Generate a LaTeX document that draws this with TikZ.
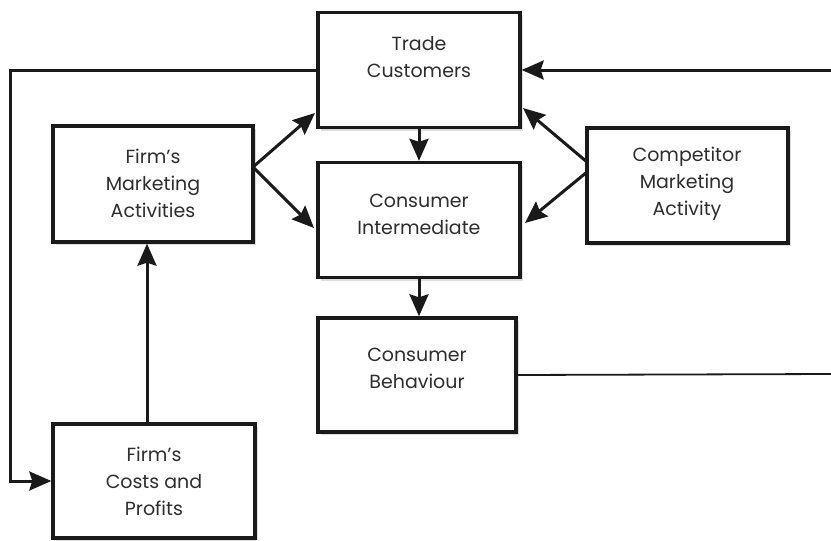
\documentclass[tikz,border=0pt]{standalone}
\usepackage{fontspec}
\setmainfont{Poppins}
\usetikzlibrary{arrows.meta,shadows}
\definecolor{ink}{HTML}{1A1A1A}
\definecolor{txtc}{HTML}{2E2E2E}
\tikzset{
  box/.style={draw=ink, line width=3.4pt, fill=white, minimum width=200pt, minimum height=114pt, inner sep=0pt,
    drop shadow={shadow xshift=3pt, shadow yshift=-3pt, opacity=0.22, fill=black!60}},
  txt/.style={align=center, text=txtc, font=\fontsize{19}{27}\selectfont, inner sep=0pt},
  arr/.style={draw=ink, line width=3pt, -{Stealth[length=22pt,width=19pt,inset=3pt]}},
  thinline/.style={draw=ink, line width=1.8pt}
}
\begin{document}
\begin{tikzpicture}[x=1pt,y=-1pt]
\useasboundingbox (0,0) rectangle (831,541);
% boxes
\node[box, minimum width=202pt, minimum height=115pt] (tc) at (419,70) {};
\node[box, minimum width=202pt, minimum height=115pt] (ci) at (419,220) {};
\node[box, minimum width=198pt, minimum height=114pt] (cb) at (417,375) {};
\node[box, minimum width=200pt, minimum height=116pt] (fma) at (153,184) {};
\node[box, minimum width=201pt, minimum height=115pt] (cma) at (687.5,185.5) {};
\node[box, minimum width=202pt, minimum height=114pt] (cp) at (154,481) {};
% texts
\node[txt] (tct) at (419,57) {Trade\\Customers};
\node[txt] (cit) at (419,214) {Consumer\\Intermediate};
\node[txt] (cbt) at (417,368) {Consumer\\Behaviour};
\node[txt] (fmat) at (153,183) {Firm’s\\Marketing\\Activities};
\node[txt] (cmat) at (687,184) {Competitor\\Marketing\\Activity};
\node[txt] (cpt) at (154,481) {Firm’s\\Costs and\\Profits};
% helper coordinates
\coordinate (lft) at (10,300);
\coordinate (rin) at (831,70);
\coordinate (rout) at (831,374);
\coordinate (fs) at (253,167);
\coordinate (t1) at (315,113);
\coordinate (t2) at (314,228);
\coordinate (cs1) at (587,162);
\coordinate (cs2) at (587,172);
\coordinate (t3) at (523,108);
\coordinate (t4) at (525,223);
% connectors
\draw[arr] (tc.west) -| (lft) |- (cp.west);
\draw[arr] (rin) -- (tc.east);
\draw[thinline] (cb.east) -- (rout);
\draw[arr] ([xshift=-7pt]cp.north) -- ([xshift=-6pt]fma.south);
\draw[arr] (tc.south) -- (ci.north);
\draw[arr] (ci.south) -- (ci.south |- cb.north);
\draw[arr] (fs) -- (t1);
\draw[arr] (fs) -- (t2);
\draw[arr] (cs1) -- (t3);
\draw[arr] (cs2) -- (t4);
\end{tikzpicture}
\end{document}
